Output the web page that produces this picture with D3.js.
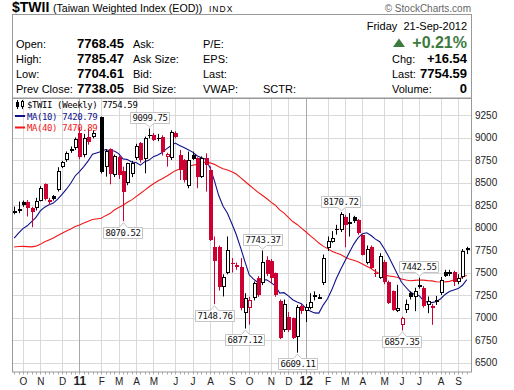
<!DOCTYPE html>
<html><head><meta charset="utf-8">
<script src="https://cdn.jsdelivr.net/npm/d3@7"></script>
<style>
body{margin:0;background:#fff}
svg{display:block}
text{font-family:"Liberation Sans",Arial,sans-serif}
.mono{font-family:"DejaVu Sans Mono","Liberation Mono",monospace}
</style>
</head><body>
<svg id="c" width="514" height="390"></svg>
<script>
// ---------------- DATA ----------------
const firstWeek = new Date(2010, 8, 20);   // Monday of first weekly bar
const lastWeek  = new Date(2012, 8, 17);   // Monday of last weekly bar (21-Sep-2012)

const opens  = [8172,8198,8280,8288,8221,8214,8300,8480,8290,8350,8418,8677,8750,8865,8880,9045,8806,9010,9010,null,
  9232,8669,8869,8584,8787,8628,8492,8595,8776,8935,8758,9032,9028,9000,9010,8784,8769,9050,8806,8750,
  8466,8810,8769,8566,8769,8640,7781,7788,7344,7492,7610,7560,7566,7048,7104,7215,7437,7381,7640,7630,
  7490,7178,6856,7010,6990,6782,7125,7067,7105,7245,7230,7381,7770,7844,7985,7973,8121,8046,8114,8084,
  7918,7603,7788,7500,7444,7620,7400,7289,7074,6920,7085,7270,7230,7340,7330,7141,7104,7167,7270,7504,
  7502,7507,7400,7445,7768.45];
const highs  = [8232,8288,8300,8306,8230,8330,8460,8490,8330,8360,8670,8740,8845,8900,9000,9110,9040,9102,9080,null,
  9232,8870,8880,8810,8800,8676,8720,8740,8930,8950,9010,9099.75,9050,9040,9025,8830,9080,9070,8862,8760,
  8843,8843,8780,8790,8824,8680,7900,7800,7480,7900,7660,7610,7660,7270,7230,7400,7460,7743.37,7680,7650,
  7500,7200,7200,7060,7000,7140,7150,7150,7270,7290,7260,7700,7900,7960,8030,8170.72,8140,8160,8130,8095,
  7925,7800,7800,7540,7715,7640,7410,7300,7363,7010,7200,7290,7330,7442.55,7350,7233,7150,7240,7450,7530,
  7530,7520,7480,7760,7785.47];
const lows   = [8147,8159,8230,8122,8003,8190,8290,8300,8251,8300,8400,8660,8730,8830,8860,8760,8780,8920,8990,null,
  8600,8565,8480,8560,8540,8070.52,8470,8560,8750,8720,8602,8990,8960,8960,8800,8677,8750,8990,8528,8500,
  8436,8750,8436,8550,8399,7850,7148.76,7300,7234,7480,7500,7530,7080,6877.12,6920,7190,7230,7360,7460,7380,
  7230,6760,6840,6840,6760,6609.11,7040,6950,7090,7190,7220,7360,7740,7830,7920,7950,7780,7900,8050,7920,
  7690,7590,7540,7450,7430,7370,7150,7075,7060,6857.35,7050,7200,7070,7320,7110,7048,6919,7140,7250,7450,
  7460,7350,7370,7430,7704.61];
const closes = [8180,8205,8251,8214,8170,8300,8440,8318,8310,8320,8632,8725,8825,8870,8984,8788,9000,8954,9045,null,
  8614,8850,8595,8795,8584,8399,8714,8721,8910,8750,8998,9026,8972,8990,8843,8814,9065,9010,8640,8528,
  8750,8765,8566,8769,8690,7862,7633,7344,7455,7751,7600,7585,7104,7215,7196,7381,7252,7622,7480,7440,
  7252,6771,7148,6860,6770,7122,7072,7120,7170,7225,7232,7660,7850,7880,7970,8150,8029,8065,8070,7936,
  7700,7760,7550,7481,7680,7400,7160,7085,7104,6990,7150,7230,7290,7365,7130,7178,7130,7200,7420,7465,
  7485,7397,7440,7738.05,7754.59];
// weekly closes before the first visible bar (feed the moving averages)
const priorCloses = [8000,8188,8290,8300,7980,7640,7210,7450,7450,7530,7760,7800,7930,7940,8080,8160,8180,8220,8060,7700,
  7700,7200,7470,7400,7400,7650,7460,7330,7530,7500,7640,7760,7900,7700,7840,7720,7900,8030,8150];

const yTicks = [6500,6750,7000,7250,7500,7750,8000,8250,8500,8750,9000,9250];
const monthLetters = ["J","F","M","A","M","J","J","A","S","O","N","D"];

// annotated extremes: bar index and whether the high or low is labelled
const annIndex = [31,25,46,53,57,65,75,89,93];
const annSide  = ["high","low","low","low","high","low","high","low","high"];

const legendLabels = ["$TWII (Weekly) 7754.59","MA(10) 7420.79","MA(40) 7470.89"];
const maPeriods = [10,40];

const hdrLeftLabels = ["Open:","High:","Low:","Prev Close:"];
const hdrLeftValues = ["7768.45","7785.47","7704.61","7738.05"];
const hdrMidLabels  = ["Ask:","Ask Size:","Bid:","Bid Size:"];
const hdrMid2Labels = ["P/E:","EPS:","Last:","VWAP:"];
const hdrRightLabels = ["Chg:","Last:","Volume:"];
const hdrRightValues = ["+16.54","7754.59","0"];

// ---------------- CHART ----------------
const svg = d3.select("#c");
const L = 12, R = 472, T = 98, B = 372;
const RED = "#cc0033", BLK = "#000", BLUE = "#10108c", MARED = "#f01818";

const weeks = d3.timeMonday.range(firstWeek, d3.timeDay.offset(lastWeek, 1));
const idx = d3.range(weeks.length);
const x = d3.scaleBand().domain(idx).range([L, 469]).paddingInner(0).paddingOuter(0);
const cx = i => x(i) + x.bandwidth() / 2;
const y = d3.scaleLinear().domain([6500, 9250]).range([362.5, 115]);

// title
svg.append("text").attr("x", 12).attr("y", 12).attr("font-weight", "bold").attr("font-size", 14).text("$TWII");
svg.append("text").attr("x", 53).attr("y", 12).attr("font-size", 10.6).text("(Taiwan Weighted Index (EOD))");
svg.append("text").attr("x", 209).attr("y", 12).attr("font-size", 8.5).attr("letter-spacing", 1).text("INDX");
svg.append("text").attr("x", 471).attr("y", 12).attr("text-anchor", "end").attr("font-size", 10)
  .attr("fill", "#666").text("\u00A9 StockCharts.com");

// header box
svg.append("rect").attr("x", L + 0.5).attr("y", 14.5).attr("width", R - L - 1).attr("height", T - 14.5)
  .attr("fill", "#fff").attr("stroke", "#999");

const rowY = [47.5, 62.5, 77.5, 93];
const hdr = svg.append("g").attr("font-size", 11).attr("fill", "#000");
hdrLeftLabels.forEach((t, k) => hdr.append("text").attr("x", 16).attr("y", rowY[k]).text(t));
hdrLeftValues.forEach((t, k) => hdr.append("text").attr("x", 77).attr("y", rowY[k]).attr("font-weight", "bold").attr("font-size", 13).text(t));
hdrMidLabels.forEach((t, k) => hdr.append("text").attr("x", 133).attr("y", rowY[k]).text(t));
hdrMid2Labels.forEach((t, k) => hdr.append("text").attr("x", 203).attr("y", rowY[k]).text(t));
hdr.append("text").attr("x", 263).attr("y", rowY[3]).text("SCTR:");
hdr.append("text").attr("x", 467).attr("y", 29.5).attr("text-anchor", "end").attr("xml:space", "preserve").text("Friday  21-Sep-2012");
hdr.append("path").attr("d", "M393,47 L399,38.5 L405,47 Z").attr("fill", "#3d7a3d");
hdr.append("text").attr("x", 467).attr("y", 47.5).attr("text-anchor", "end").attr("font-weight", "bold")
  .attr("font-size", 16).attr("fill", "#3d7a3d").text("+0.21%");
hdrRightLabels.forEach((t, k) => hdr.append("text").attr("x", 392).attr("y", rowY[k + 1]).text(t));
hdrRightValues.forEach((t, k) => hdr.append("text").attr("x", 467).attr("y", rowY[k + 1]).attr("text-anchor", "end")
  .attr("font-weight", "bold").attr("font-size", 13).text(t));

// plot background & grid
svg.append("rect").attr("x", L).attr("y", T).attr("width", R - L).attr("height", B - T).attr("fill", "#fff");
const grid = svg.append("g");
yTicks.forEach(v => {
  const yy = Math.round(y(v)) + 0.5;
  grid.append("line").attr("x1", L).attr("x2", R).attr("y1", yy).attr("y2", yy).attr("stroke", "#d9d9d9");
});
const monthStarts = idx.filter(i => i > 0 && weeks[i].getMonth() !== weeks[i - 1].getMonth());
monthStarts.forEach(i => {
  const xx = Math.round(cx(i)) + 0.5;
  const isYear = weeks[i].getMonth() === 0;
  grid.append("line").attr("x1", xx).attr("x2", xx).attr("y1", T).attr("y2", B)
    .attr("stroke", isYear ? "#a8a8a8" : "#d9d9d9");
});

// weekly ticks under the axis
idx.forEach(i => {
  const xx = Math.round(cx(i)) + 0.5;
  svg.append("line").attr("x1", xx).attr("x2", xx).attr("y1", B).attr("y2", B + 2.5).attr("stroke", "#aaa");
});

// x labels
monthStarts.forEach(i => {
  const m = weeks[i].getMonth();
  const isYear = m === 0;
  svg.append("text").attr("x", cx(i) + 0.5).attr("y", 385).attr("text-anchor", "middle")
    .attr("font-size", isYear ? 12 : 10).attr("font-weight", isYear ? "bold" : "normal").attr("fill", "#222")
    .text(isYear ? String(weeks[i].getFullYear()).slice(2) : monthLetters[m]);
});

// y labels
yTicks.forEach(v => {
  svg.append("text").attr("x", 475).attr("y", y(v) + 3.5).attr("font-size", 10).attr("fill", "#222").text(v);
});

// clip
svg.append("clipPath").attr("id", "pc").append("rect").attr("x", L).attr("y", T).attr("width", R - L).attr("height", B - T);
const plot = svg.append("g").attr("clip-path", "url(#pc)");

// moving averages
const all = priorCloses.concat(closes);
function ma(n) {
  const out = [];
  closes.forEach((c, i) => {
    if (c == null) return;
    const vals = [];
    for (let k = priorCloses.length + i; k >= 0 && vals.length < n; k--) if (all[k] != null) vals.push(all[k]);
    out.push({ i, v: d3.mean(vals) });
  });
  return out;
}
const line = d3.line().x(d => cx(d.i)).y(d => y(d.v));
plot.append("path").datum(ma(maPeriods[1])).attr("d", line).attr("fill", "none").attr("stroke", MARED).attr("stroke-width", 1.1);
plot.append("path").datum(ma(maPeriods[0])).attr("d", line).attr("fill", "none").attr("stroke", BLUE).attr("stroke-width", 1.1);

// candles
const bars = idx.filter(i => closes[i] != null).map(i => ({
  i, o: opens[i], h: highs[i], l: lows[i], c: closes[i], pc: i > 0 ? closes[i - 1] : null
}));
const cg = plot.append("g");
bars.forEach(d => {
  const col = (d.pc == null || d.c >= d.pc) ? BLK : RED;
  const hollow = d.c > d.o;
  const px = Math.round(cx(d.i));
  cg.append("line").attr("x1", px + 0.5).attr("x2", px + 0.5).attr("y1", y(d.h)).attr("y2", y(d.l))
    .attr("stroke", col).attr("stroke-width", 1);
  const top = Math.round(y(Math.max(d.o, d.c))), bot = Math.round(y(Math.min(d.o, d.c)));
  if (hollow) {
    cg.append("rect").attr("x", px - 1 + 0.5).attr("y", top + 0.5).attr("width", 3).attr("height", Math.max(1, bot - top - 1))
      .attr("fill", "#fff").attr("stroke", col);
  } else {
    cg.append("rect").attr("x", px - 1).attr("y", top).attr("width", 4).attr("height", Math.max(1, bot - top))
      .attr("fill", col);
  }
});

// frame
svg.append("rect").attr("x", L + 0.5).attr("y", T + 0.5).attr("width", R - L - 1).attr("height", B - T - 0.5)
  .attr("fill", "none").attr("stroke", "#999");

// annotations
annIndex.forEach((i, k) => {
  const isHigh = annSide[k] === "high";
  const v = isHigh ? highs[i] : lows[i];
  const label = v.toFixed(2);
  const px = cx(i);
  const g = svg.append("g");
  const t = g.append("text").attr("class", "mono").attr("font-size", 9).attr("letter-spacing", -0.4)
    .attr("fill", "#111").attr("text-anchor", "middle").text(label);
  const w = t.node().getComputedTextLength() + 4;
  const h = 11;
  const x0 = Math.round(px - w / 2) + 0.5, x1 = x0 + Math.round(w);
  let tipY, edge, other;
  if (isHigh) { tipY = y(v) - 1.5; edge = Math.round(tipY - 4) + 0.5; other = edge - h; }
  else { tipY = y(v) + 1.5; edge = Math.round(tipY + 4) + 0.5; other = edge + h; }
  const pxr = Math.round(px) + 0.5;
  const path = `M${x0},${edge} L${pxr - 4},${edge} L${pxr},${tipY} L${pxr + 4},${edge} L${x1},${edge} L${x1},${other} L${x0},${other} Z`;
  g.insert("path", "text").attr("d", path).attr("fill", "#fff").attr("stroke", "#c4c4c4");
  const mid = (edge + other) / 2;
  t.attr("x", (x0 + x1) / 2).attr("y", mid + 3.3);
});

// legend
const lg = svg.append("g");
// small candlestick icon
lg.append("line").attr("x1", 17.5).attr("x2", 17.5).attr("y1", 100).attr("y2", 109).attr("stroke", "#000");
lg.append("rect").attr("x", 16).attr("y", 102).attr("width", 3).attr("height", 5).attr("fill", "#000");
lg.append("line").attr("x1", 22.5).attr("x2", 22.5).attr("y1", 100).attr("y2", 109).attr("stroke", "#000");
lg.append("rect").attr("x", 21.5).attr("y", 101.5).attr("width", 2).attr("height", 5).attr("fill", "#fff").attr("stroke", "#000");
const lt = (xx, yy, col, s) => lg.append("text").attr("class", "mono").attr("font-size", 9).attr("letter-spacing", -0.4)
  .attr("x", xx).attr("y", yy).attr("fill", col).text(s);
lt(27, 108, "#000", legendLabels[0]);
lg.append("line").attr("x1", 15).attr("x2", 25).attr("y1", 116).attr("y2", 116).attr("stroke", BLUE).attr("stroke-width", 2);
lt(27, 119.5, BLUE, legendLabels[1]);
lg.append("line").attr("x1", 15).attr("x2", 25).attr("y1", 127.5).attr("y2", 127.5).attr("stroke", MARED).attr("stroke-width", 2);
lt(27, 131, MARED, legendLabels[2]);
</script>
</body></html>
